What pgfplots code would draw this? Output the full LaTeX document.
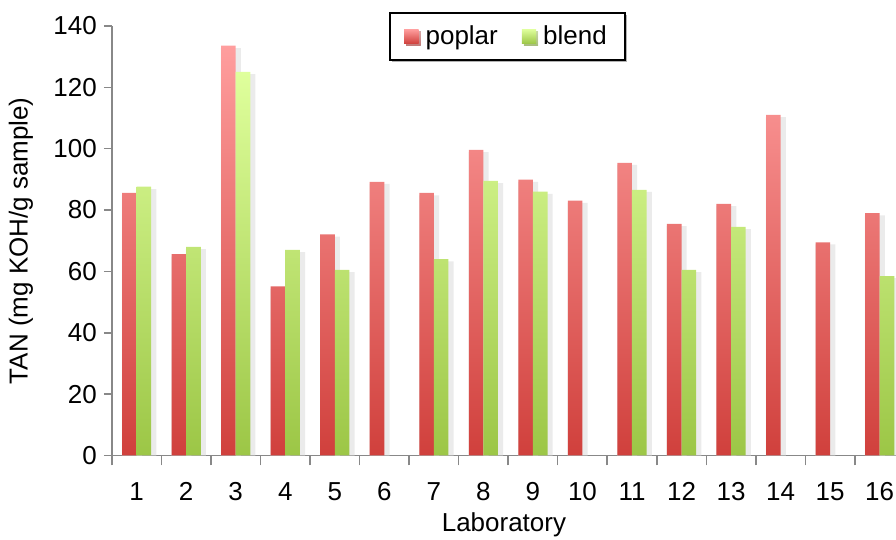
\documentclass[border=0pt]{standalone}
\usepackage{pgfplots}
\pgfplotsset{compat=1.18}
\usepackage{fontspec}
\setmainfont{Liberation Sans}
\usetikzlibrary{shadows}
\definecolor{axgray}{HTML}{888888}
\definecolor{ptop}{HTML}{FF9E9E}
\definecolor{pbot}{HTML}{D0403C}
\definecolor{btop}{HTML}{DFFF9C}
\definecolor{bbot}{HTML}{9CC646}
\begin{document}
\begin{tikzpicture}
\path[use as bounding box] (-56pt,-42pt) rectangle (392.5pt,228pt);
\begin{axis}[
  scale only axis,
  width=392.5pt, height=215pt,
  anchor=south west, at={(0,0)},
  xmin=0.5, xmax=16.33,
  ymin=0, ymax=140,
  axis x line*=bottom, axis y line*=left,
  axis line style={axgray, line width=0.8pt},
  xtick={1,...,16},
  minor xtick={0.5,1.5,...,15.5},
  major x tick style={draw=none},
  minor x tick style={axgray, line width=0.8pt},
  minor tick length=5pt,
  ytick={0,20,...,140},
  y tick style={axgray, line width=0.8pt},
  major tick length=4pt,
  tick align=outside,
  clip=false,
  font=\fontsize{13}{15}\selectfont,
  tick label style={font=\fontsize{13}{15}\selectfont},
  /pgf/number format/assume math mode=true,
  xticklabel style={yshift=-6pt},
  xlabel={Laboratory},
  ylabel={TAN (mg KOH/g sample)},
  xlabel style={at={(axis description cs:0.5,0)}, anchor=north, yshift=-25pt},
  ylabel style={at={(axis description cs:0,0.5)}, anchor=south, xshift=0pt, yshift=36pt},
  ybar, bar width=7.3pt,
  legend style={at={(rel axis cs:0.5045,1.0326)}, anchor=north,
    draw=black, line width=1pt, fill=white, legend columns=2,
    drop shadow={shadow xshift=1pt, shadow yshift=-1pt, fill=black!60},
    font=\fontsize{13}{15}\selectfont,
    /tikz/every odd column/.append style={column sep=1.5pt},
    /tikz/every even column/.append style={column sep=10pt},
    inner xsep=7pt, inner ysep=4.3pt},
  legend image code/.code={\path[#1, line width=0pt] (0pt,-3.6pt) rectangle (7.2pt,3.6pt);},
]
% shadows
\addplot[fill=black!8, draw=none, bar width=10pt, bar shift=-2.4pt, forget plot] coordinates {
(1,84.8) (2,64.8) (3,132.8) (4,54.3) (5,71.3) (6,88.5) (7,84.8) (8,98.9) (9,89.2) (10,82.3) (11,94.7) (12,74.8) (13,81.3) (14,110.3) (15,68.8) (16,78.3)};
\addplot[fill=black!8, draw=none, bar width=10pt, bar shift=4.9pt, forget plot] coordinates {
(1,86.8) (2,67.3) (3,124.3) (4,66.3) (5,59.8) (7,63.3) (8,88.8) (9,85.3) (11,85.9) (12,59.8) (13,73.8) (16,57.8)};
% bars
\addplot[draw=none, top color=ptop, bottom color=pbot, bar shift=-3.65pt] coordinates {
(1,85.6) (2,65.6) (3,133.6) (4,55.1) (5,72.1) (6,89.2) (7,85.6) (8,99.6) (9,89.9) (10,83.1) (11,95.4) (12,75.5) (13,82.0) (14,111.0) (15,69.5) (16,79.0)};
\addplot[draw=none, top color=btop, bottom color=bbot, bar shift=3.65pt] coordinates {
(1,87.6) (2,68.0) (3,125.0) (4,67.0) (5,60.5) (7,64.0) (8,89.5) (9,86.0) (11,86.6) (12,60.5) (13,74.5) (16,58.5)};
\legend{poplar, blend}
\end{axis}
\end{tikzpicture}
\end{document}
